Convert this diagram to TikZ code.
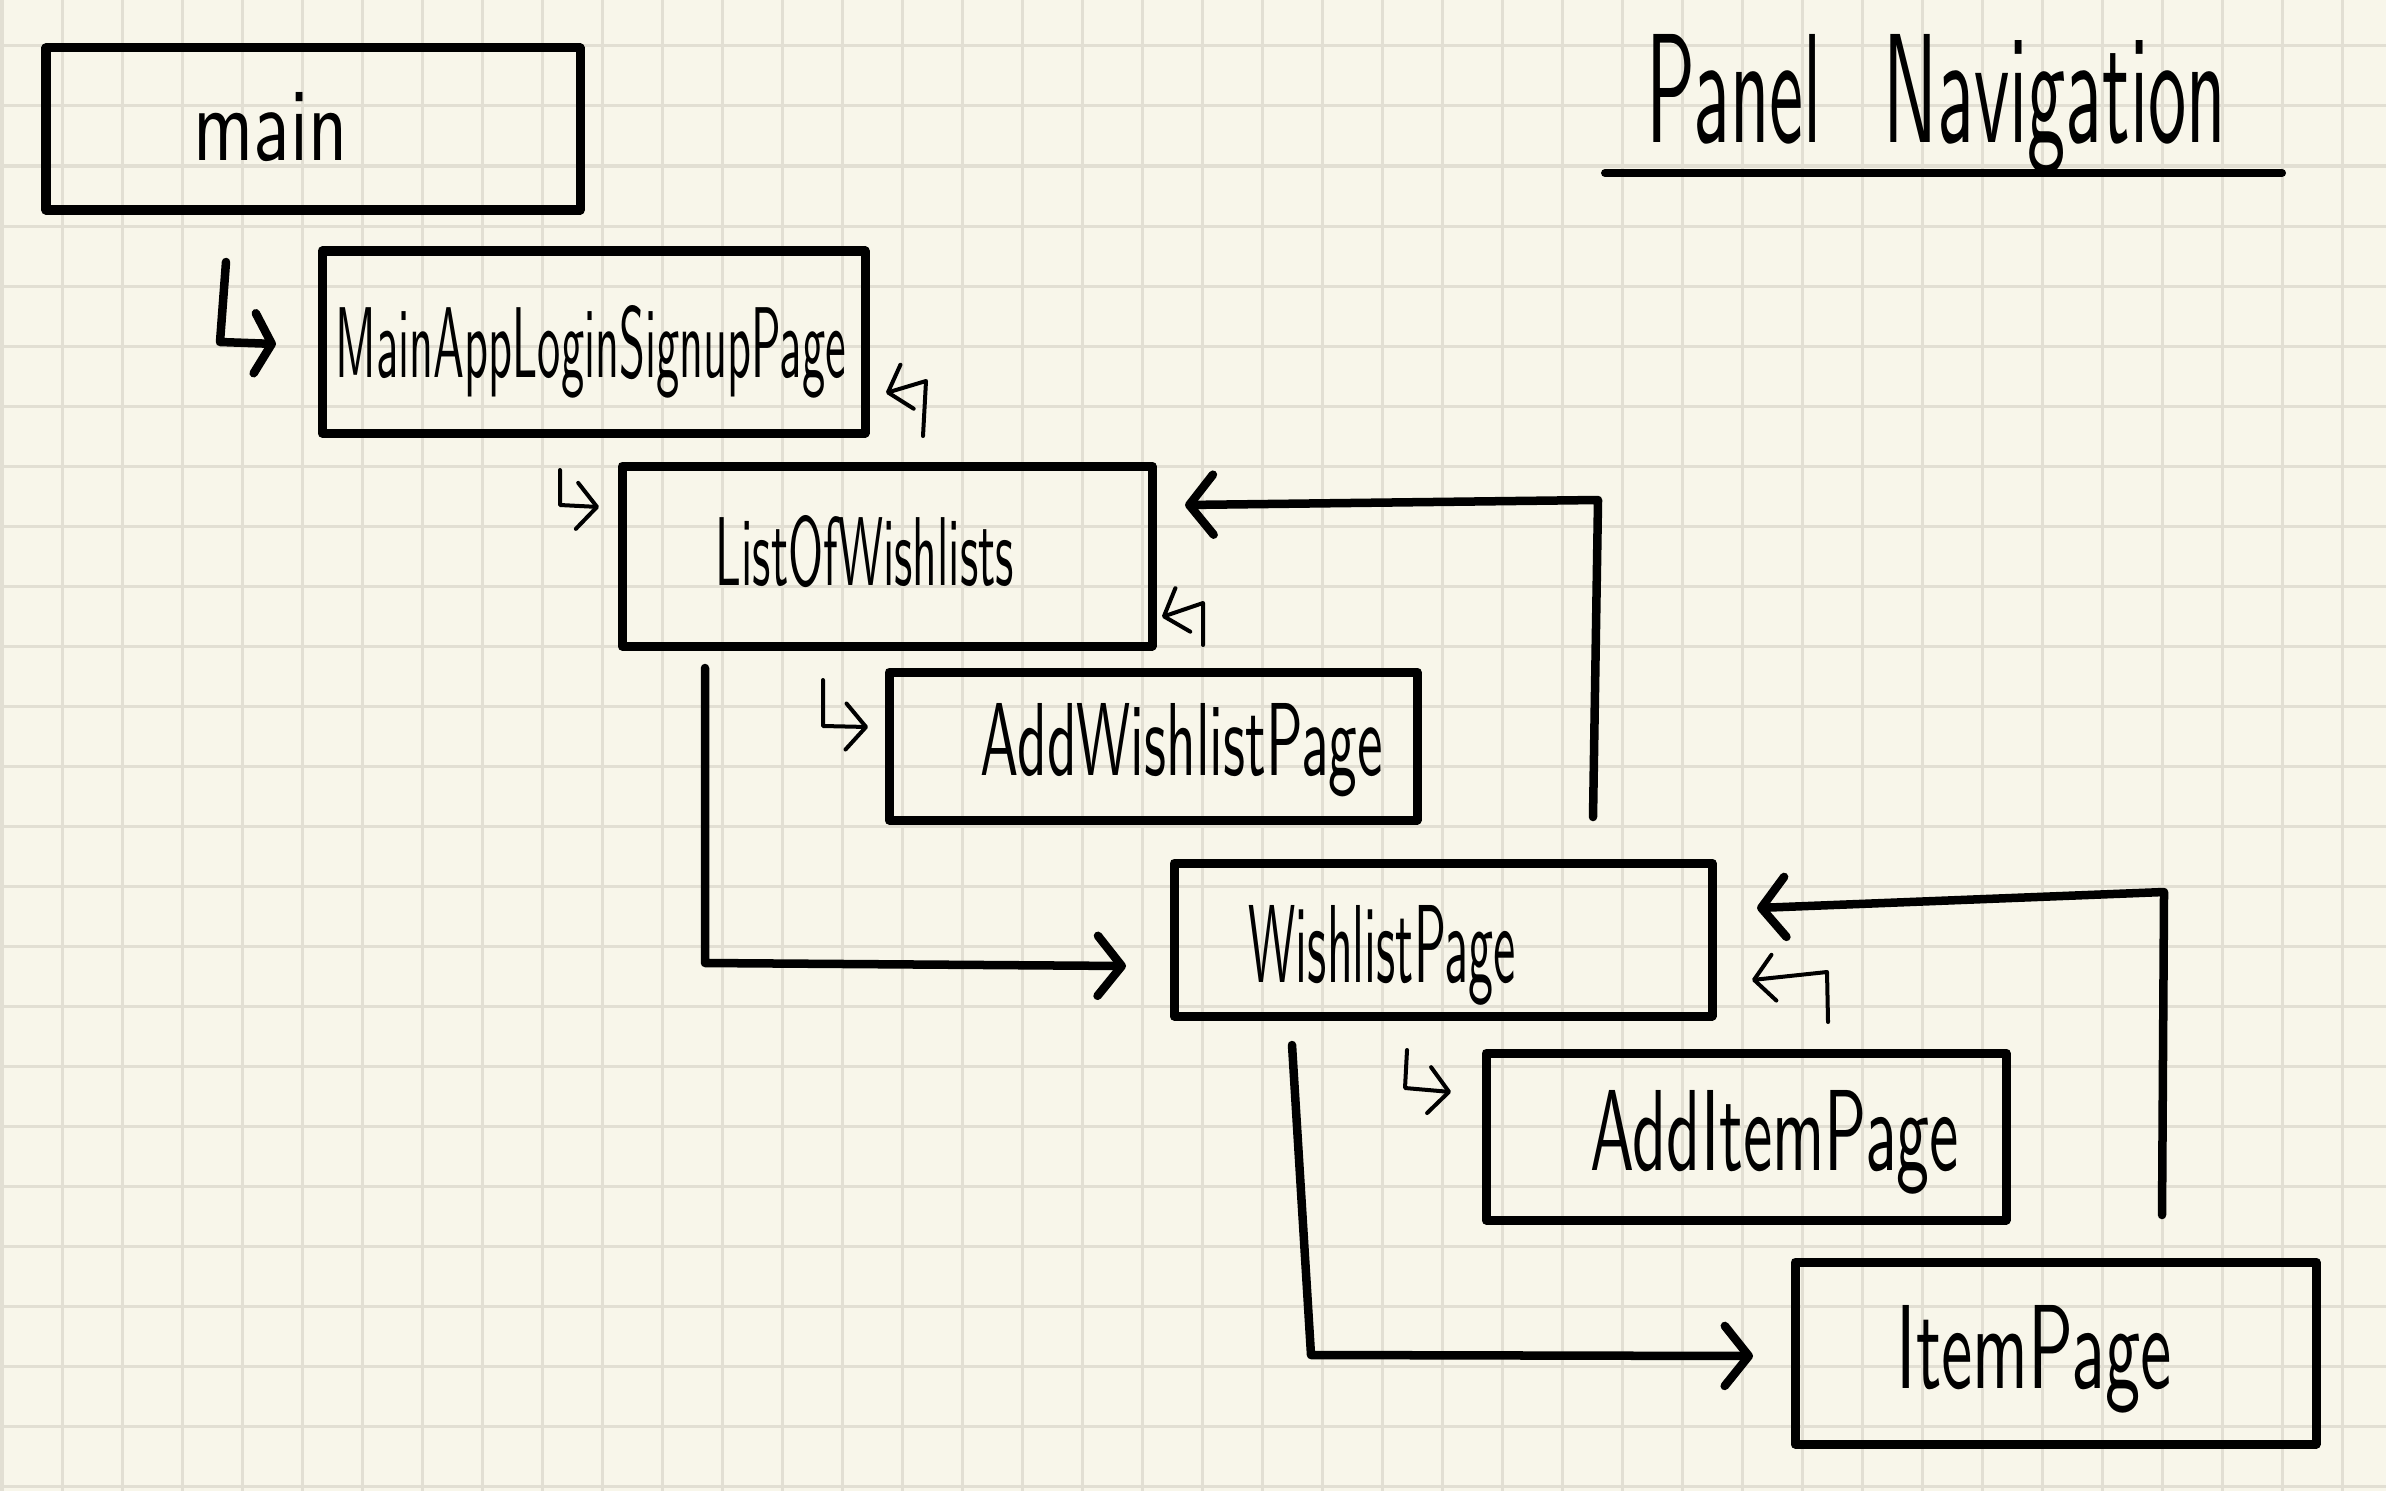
\documentclass[tikz,border=0pt]{standalone}
\usetikzlibrary{arrows.meta,fit}
\usepackage{graphicx}
\definecolor{paper}{HTML}{F8F6EA}
\definecolor{gridc}{HTML}{E2DFD3}
\newcommand{\handtext}[3]{\resizebox{#1}{#2}{\sffamily #3}}
\begin{document}
\begin{tikzpicture}[x=0.01cm,y=-0.01cm,
  box/.style={draw, line width=0.09cm, inner sep=0pt, line join=round},
  lbl/.style={anchor=base west, inner sep=0pt},
  conn/.style={line width=0.085cm, line cap=round, line join=round},
  hook/.style={line width=0.04cm, line cap=round, line join=round},
  bigtip/.style={-{Straight Barb[length=0.24cm,width=0.6cm,round]}},
  midtip/.style={-{Straight Barb[length=0.17cm,width=0.6cm,round]}},
  smalltip/.style={-{Straight Barb[length=0.2cm,width=0.46cm,round]}}]
% paper and grid
\fill[paper] (0,0) rectangle (2386,1491);
\useasboundingbox (0,0) rectangle (2386,1491);
\foreach \i in {0,...,39} \draw[gridc, line width=0.03cm] ({2+60*\i},0) -- ({2+60*\i},1491);
\foreach \j in {0,...,24} \draw[gridc, line width=0.03cm] (0,{46+60*\j}) -- (2386,{46+60*\j});

% title
\node[lbl] (title) at (1646,143) {\handtext{5.79cm}{1.08cm}{Panel\hspace{0.8em}Navigation}};
\coordinate (ulA) at (1605,173);
\coordinate (ulB) at (2282,173);
\draw[line width=0.08cm, line cap=round] (ulA) -- (ulB);

% boxes
\node[box, fit={(46,48) (580,210)}] (main) {};
\node[box, fit={(322,251) (865,433)}] (login) {};
\node[box, fit={(622,466) (1152,646)}] (lists) {};
\node[box, fit={(889,672) (1417,820)}] (addwish) {};
\node[box, fit={(1174,863) (1712,1016)}] (wish) {};
\node[box, fit={(1486,1053) (2006,1220)}] (additem) {};
\node[box, fit={(1795,1262) (2316,1444)}] (item) {};

% labels
\node[lbl] (tmain) at (193,160) {\handtext{1.54cm}{0.68cm}{main}};
\node[lbl] (tlogin) at (335,377) {\handtext{5.10cm}{0.72cm}{MainAppLoginSignupPage}};
\node[lbl] (tlists) at (715,585) {\handtext{2.98cm}{0.70cm}{ListOfWishlists}};
\node[lbl] (taddwish) at (980,775) {\handtext{4.02cm}{0.72cm}{AddWishlistPage}};
\node[lbl] (twish) at (1248,982) {\handtext{2.67cm}{0.77cm}{WishlistPage}};
\node[lbl] (tadditem) at (1590,1170) {\handtext{3.68cm}{0.80cm}{AddItemPage}};
\node[lbl] (titem) at (1896,1388) {\handtext{2.75cm}{0.83cm}{ItemPage}};

% main -> login (big hook arrow)
\coordinate (a1) at (226,262);
\coordinate (a2) at (220,342);
\coordinate (a3) at (276,344);
\draw[conn, midtip] (a1) -- (a2) -- (a3);

% return hook to login
\coordinate (b1) at (923,436);
\coordinate (b2) at (926,381);
\coordinate (b3) at (886,393);
\draw[hook, smalltip] (b1) -- (b2) -- (b3);

% login -> lists small hook
\coordinate (c1) at (560,470);
\coordinate (c2) at (560,505);
\coordinate (c3) at (599,507);
\draw[hook, smalltip] (c1) -- (c2) -- (c3);

% return hook to lists
\coordinate (d1) at (1203,645);
\coordinate (d2) at (1203,603);
\coordinate (d3) at (1162,617);
\draw[hook, smalltip] (d1) -- (d2) -- (d3);

% lists -> addwish small hook
\coordinate (e1) at (823,680);
\coordinate (e2) at (823,726);
\coordinate (e3) at (868,727);
\draw[hook, smalltip] (e1) -- (e2) -- (e3);

% lists -> wish
\coordinate (f1) at (705,668);
\coordinate (f2) at (705,963);
\coordinate (f3) at (1126,966);
\draw[conn, bigtip] (f1) -- (f2) -- (f3);

% addwish -> lists (return)
\coordinate (g1) at (1593,817);
\coordinate (g2) at (1598,500);
\coordinate (g3) at (1185,505);
\draw[conn, bigtip] (g1) -- (g2) -- (g3);

% return hook to wish
\coordinate (h1) at (1828,1022);
\coordinate (h2) at (1827,972);
\coordinate (h3) at (1752,980);
\draw[hook, smalltip] (h1) -- (h2) -- (h3);

% item -> wish (return)
\coordinate (i1) at (2162,1215);
\coordinate (i2) at (2164,892);
\coordinate (i3) at (1757,908);
\draw[conn, bigtip] (i1) -- (i2) -- (i3);

% wish -> additem small hook
\coordinate (j1) at (1407,1050);
\coordinate (j2) at (1405,1088);
\coordinate (j3) at (1451,1092);
\draw[hook, smalltip] (j1) -- (j2) -- (j3);

% wish -> item
\coordinate (k1) at (1292,1045);
\coordinate (k2) at (1311,1355);
\coordinate (k3) at (1753,1356);
\draw[conn, bigtip] (k1) -- (k2) -- (k3);
\end{tikzpicture}
\end{document}
